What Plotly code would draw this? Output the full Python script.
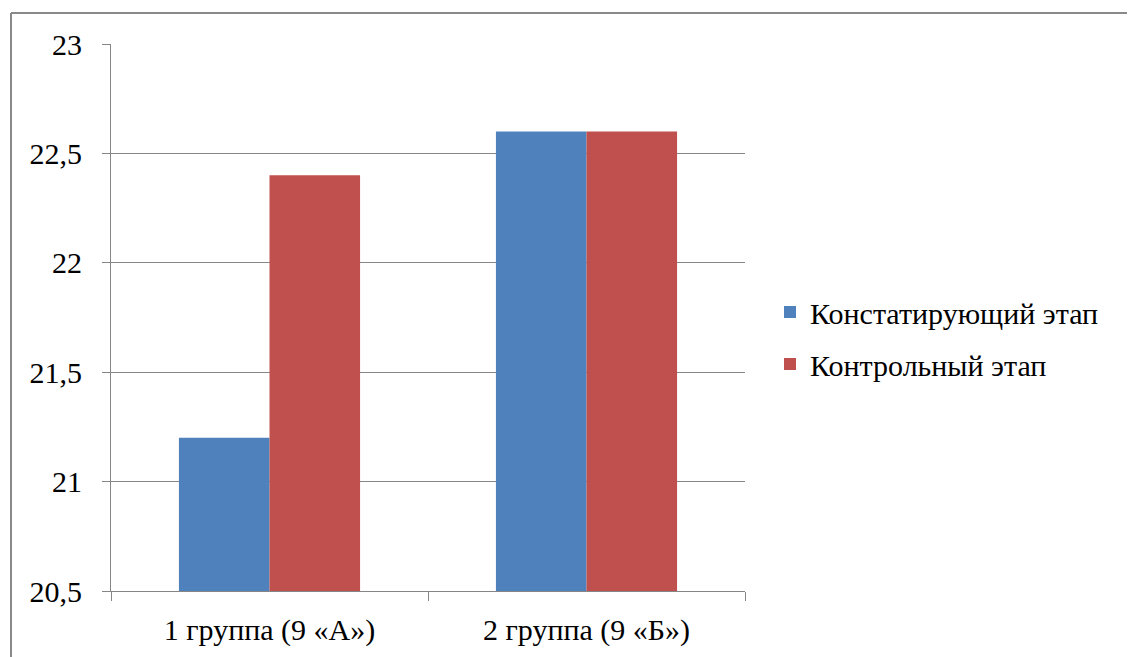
import plotly.graph_objects as go

categories = ["1 группа (9 «А»)", "2 группа (9 «Б»)"]
series_names = ["Констатирующий этап", "Контрольный этап"]
konstat = [21.2, 22.6]
kontrol = [22.4, 22.6]
colors = ["#4F81BD", "#C0504D"]
y_ticks = [20.5, 21, 21.5, 22, 22.5, 23]
y_ticktext = ["20,5", "21", "21,5", "22", "22,5", "23"]

FONT = "serif"

fig = go.Figure()
for name, vals, col, grp in zip(series_names, [konstat, kontrol], colors, ["a", "b"]):
    fig.add_trace(go.Bar(
        x=categories, y=vals, name=name, marker=dict(color=col, line=dict(width=0)),
        legendgroup=grp,
    ))

W, H = 1135, 657
OFF = 8  # page body margin offset
L, T = 111 - OFF, 44 - OFF
PR, PB = 745 - OFF, 591 - OFF
R, B = W - PR, H - PB
pw = PR - L
ph = PB - T

fig.update_layout(
    width=W, height=H,
    margin=dict(l=L, r=R, t=T, b=B, pad=0),
    paper_bgcolor="white", plot_bgcolor="white",
    barmode="group", bargap=1.5 / 3.5, bargroupgap=0,
    font=dict(family=FONT, size=30, color="black"),
    showlegend=True,
    legend=dict(x=(770 - OFF - L) / pw, xanchor="left", y=(PB - (338 - OFF)) / ph, yanchor="middle",
                font=dict(family=FONT, size=30, color="black"),
                tracegroupgap=10, bgcolor="rgba(0,0,0,0)"),
    xaxis=dict(showgrid=False, showline=True, linecolor="#868686", linewidth=1,
               ticks="outside", tickson="boundaries", ticklen=9, tickcolor="#868686",
               tickfont=dict(family=FONT, size=30, color="black"), ticklabelstandoff=12),
    yaxis=dict(range=[20.5, 23], tickvals=y_ticks, ticktext=y_ticktext,
               showgrid=True, gridcolor="#868686", gridwidth=1,
               showline=True, linecolor="#868686", linewidth=1,
               ticks="outside", ticklen=8, tickcolor="#868686",
               tickfont=dict(family=FONT, size=30, color="black"), ticklabelstandoff=14,
               zeroline=False),
)

# outer chart frame (cropped at right and bottom)
fx0 = (11 - OFF - L) / pw
fy1 = (PB - (13 - OFF)) / ph
frame = dict(color="#898989", width=2)
fig.add_shape(type="line", xref="paper", yref="paper", x0=fx0, x1=fx0, y0=fy1, y1=-2, line=frame)
fig.add_shape(type="line", xref="paper", yref="paper", x0=fx0, x1=3, y0=fy1, y1=fy1, line=frame)

fig.write_html("out.html")
